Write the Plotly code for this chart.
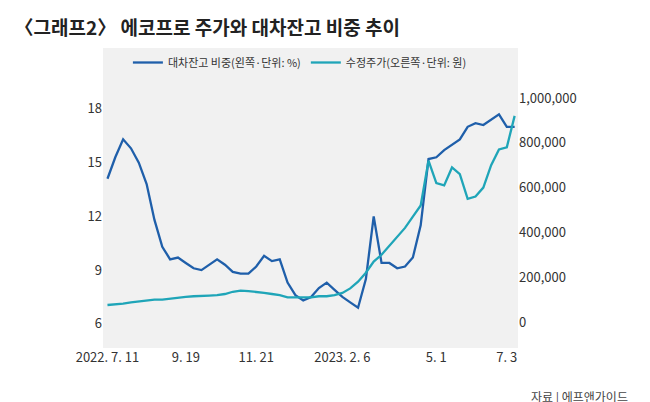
import pandas as pd
import plotly.graph_objects as go

dates = pd.date_range("2022-07-11", periods=53, freq="7D")
lend_ratio = [14.1, 15.3, 16.3, 15.8, 15.0, 13.8, 11.8, 10.3, 9.6, 9.7, 9.4, 9.1, 9.0, 9.3, 9.6,
              9.3, 8.9, 8.8, 8.8, 9.2, 9.8, 9.5, 9.6, 8.3, 7.6, 7.3, 7.5, 8.0, 8.3, 7.9, 7.5,
              7.2, 6.9, 8.5, 12.0, 9.4, 9.4, 9.1, 9.2, 9.7, 11.5, 15.2, 15.3, 15.7, 16.0, 16.3,
              17.0, 17.2, 17.1, 17.4, 17.7, 17.0, 17.0]
price = [76e3, 78e3, 82e3, 88e3, 92e3, 95e3, 100e3, 100e3, 105e3, 108e3, 112e3, 115e3, 118e3,
         118e3, 120e3, 125e3, 135e3, 140e3, 138e3, 135e3, 130e3, 125e3, 120e3, 110e3, 110e3,
         112e3, 110e3, 115e3, 115e3, 120e3, 130e3, 150e3, 180e3, 220e3, 270e3, 300e3, 340e3,
         380e3, 420e3, 470e3, 520e3, 720e3, 620e3, 610e3, 690e3, 660e3, 550e3, 560e3, 600e3,
         700e3, 770e3, 780e3, 920e3]
tick_dates = ["2022-07-11", "2022-09-19", "2022-11-21", "2023-02-06", "2023-05-01", "2023-07-03"]
tick_text = ["2022. 7. 11", "9. 19", "11. 21", "2023. 2. 6", "5. 1", "7. 3"]

fig = go.Figure()
fig.add_trace(go.Scatter(x=dates, y=lend_ratio, name="대차잔고 비중(왼쪽·단위: %)",
                         line=dict(color="#1f5faa", width=2.3)))
fig.add_trace(go.Scatter(x=dates, y=price, name="수정주가(오른쪽·단위: 원)", yaxis="y2",
                         line=dict(color="#1fa5b8", width=2.3)))

font = dict(family="Noto Sans CJK KR", size=13, color="#333")
fig.update_layout(
    width=650, height=402, margin=dict(l=95, r=140, t=40, b=62),
    paper_bgcolor="white", plot_bgcolor="#f1f1f1", font=font,
    title=dict(text="<b>〈그래프2〉 에코프로 주가와 대차잔고 비중 추이</b>", x=0.01, y=0.965,
               font=dict(family="Noto Sans CJK KR", size=19, color="#222")),
    xaxis=dict(range=["2022-07-07", "2023-07-13"], tickvals=tick_dates, ticktext=tick_text,
               showgrid=False, ticks="", zeroline=False),
    yaxis=dict(range=[4.65, 21.4], tickvals=[6, 9, 12, 15, 18], showgrid=False, zeroline=False),
    yaxis2=dict(overlaying="y", side="right", range=[-116000, 1223000],
                tickvals=[0, 200000, 400000, 600000, 800000, 1000000], tickformat=",d",
                showgrid=False, zeroline=False),
    legend=dict(orientation="h", x=0.06, y=1.0, yanchor="top", bgcolor="rgba(0,0,0,0)",
                font=dict(size=11), itemwidth=30),
    showlegend=True,
)
fig.add_annotation(text="자료 | 에프앤가이드", xref="paper", yref="paper", x=1.27, y=-0.2,
                   xanchor="right", showarrow=False, font=dict(size=12, color="#444"))
fig.write_html("out.html")
